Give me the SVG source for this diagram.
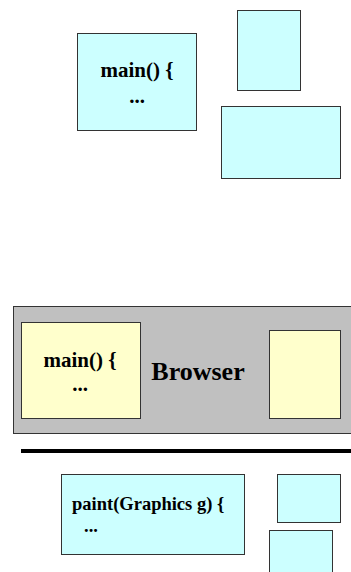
<svg xmlns="http://www.w3.org/2000/svg" width="351" height="572" viewBox="0 0 351 572">
  <style>
    .cyan { fill: #ccffff; stroke: #333333; stroke-width: 1; }
    .yellow { fill: #ffffcc; stroke: #333333; stroke-width: 1; }
    .frame { fill: #c0c0c0; stroke: #333333; stroke-width: 1; }
    .code { font-family: "Liberation Serif", "Times New Roman", serif; font-weight: bold; fill: #000000; }
  </style>
  <rect width="351" height="572" fill="#ffffff"/>

  <!-- upper: program window and free-floating boxes -->
  <g id="program-main">
    <rect class="cyan" x="77.5" y="33.5" width="119" height="97"/>
    <text class="code" x="137" y="77" font-size="21" text-anchor="middle">main() {</text>
    <text class="code" x="137" y="103" font-size="21" text-anchor="middle">...</text>
  </g>
  <g id="box-tall">
    <rect class="cyan" x="237.5" y="10.5" width="63" height="80"/>
  </g>
  <g id="box-wide">
    <rect class="cyan" x="221.5" y="106.5" width="119" height="72"/>
  </g>

  <!-- middle: browser frame -->
  <g id="browser">
    <rect class="frame" x="13.5" y="306.5" width="345" height="127"/>
    <text class="code" x="198" y="380" font-size="26" text-anchor="middle">Browser</text>
  </g>
  <g id="browser-main">
    <rect class="yellow" x="21.5" y="322.5" width="119" height="96"/>
    <text class="code" x="80" y="367" font-size="21" text-anchor="middle">main() {</text>
    <text class="code" x="80" y="391" font-size="21" text-anchor="middle">...</text>
  </g>
  <g id="browser-box">
    <rect class="yellow" x="269.5" y="330.5" width="71" height="88"/>
  </g>

  <!-- divider -->
  <g id="connectors">
    <line x1="21" y1="451" x2="351" y2="451" stroke="#000000" stroke-width="4"/>
  </g>

  <!-- lower: applet paint method and boxes -->
  <g id="applet-paint">
    <rect class="cyan" x="61.5" y="474.5" width="183" height="80"/>
    <text class="code" x="72" y="510" font-size="18.5">paint(Graphics g) {</text>
    <text class="code" x="84" y="532" font-size="18.5">...</text>
  </g>
  <g id="box-small">
    <rect class="cyan" x="277.5" y="474.5" width="63" height="48"/>
  </g>
  <g id="box-lower">
    <rect class="cyan" x="269.5" y="530.5" width="63" height="50"/>
  </g>
</svg>
